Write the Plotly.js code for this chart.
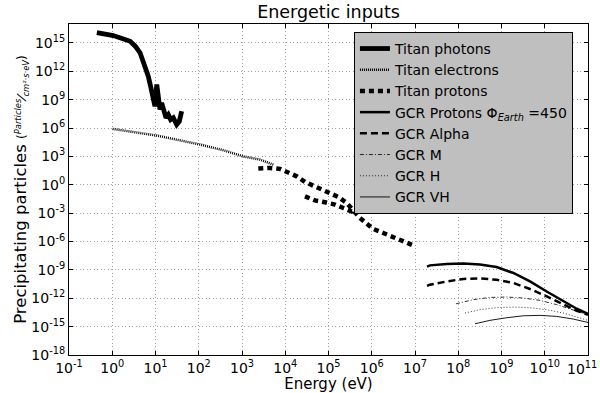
<!DOCTYPE html>
<html>
<head>
<meta charset="utf-8">
<script src="https://cdn.plot.ly/plotly-3.0.1.min.js"></script>
<style>
  html, body { margin: 0; padding: 0; background: #fff; }
  #chart { width: 600px; height: 393px; }
</style>
</head>
<body>
<div id="chart"></div>
<script>
// Values (energy in eV, flux in particles / cm2.s.eV)
const photonsE = [0.44, 1.06, 2.6, 3.4, 4.4, 5.7, 6.8, 7.7, 8.9, 9.7, 10.7, 11.6, 12.7, 13.9, 15.7, 17.5, 19.8, 22.4, 25.8, 30.9, 35.5, 40.3];
const photonsF = [1.2e16, 6e15, 1.5e15, 4.5e14, 9e13, 3.4e12, 3e11, 2.6e10, 1e9, 2e8, 4e10, 4.6e8, 9e7, 4.6e8, 5.9e7, 1.2e7, 2.6e7, 7.8e6, 1.2e7, 2.3e6, 5.1e6, 5.9e7];

const electronsE = [1.02, 2.57, 10.7, 36.8, 107, 370, 1070, 2600, 5300];
const electronsF = [8.1e5, 4.6e5, 1.6e5, 5e4, 1.8e4, 4.5e3, 1e3, 460, 135];

const protonsE = [2380, 4440, 7570, 1.18e4, 1.84e4, 2.86e4, 4.46e4, 6.97e4, 1.08e5, 1.69e5, 2.63e5, 3.74e5, 5.35e5, 7.62e5, 1.09e6, 1.85e6, 3.15e6, 5.37e6, 9.1e6];
const protonsF = [51, 60, 48, 21, 7.8, 2, 0.81, 0.36, 0.14, 0.051, 0.012, 2e-3, 3.1e-4, 7.8e-5, 2.1e-5, 7.9e-6, 3e-6, 1.3e-6, 3.9e-7];
const protonsLowE = [2.86e4, 4.88e4, 8.3e4, 1.41e5, 2.2e5, 3.44e5, 3.74e5];
const protonsLowF = [0.06, 0.022, 0.014, 7.9e-3, 3.5e-3, 1.5e-3, 2e-3];

const gcrE = [1.9e7, 2.22e7, 5.4e7, 1.31e8, 3.18e8, 7.7e8, 1.88e9, 4.56e9, 1.11e10, 2.69e10, 5.48e10, 1e11];
const gcrProtonsF = [2.2e-9, 3e-9, 4.2e-9, 4.6e-9, 3.8e-9, 2e-9, 4.7e-10, 6e-11, 5.2e-12, 4.7e-13, 7.8e-14, 2.3e-14];
const gcrAlphaF = [2e-11, 2.7e-11, 6e-11, 1.1e-10, 1.26e-10, 9.1e-11, 4.1e-11, 9.5e-12, 1.6e-12, 2.1e-13, 4.8e-14, 1.8e-14];

const gcrME = [8.9e7, 2.23e8, 5.4e8, 1.32e9, 3.19e9, 7.8e9, 1.89e10, 4.57e10, 1e11];
const gcrMF = [2.6e-13, 7.1e-13, 1.23e-12, 1.35e-12, 1.07e-12, 5.9e-13, 2.1e-13, 6.2e-14, 1.8e-14];

const gcrHE = [1.43e8, 3.18e8, 7.7e8, 1.88e9, 4.56e9, 1.11e10, 2.69e10, 5.48e10, 1e11];
const gcrHF = [2.75e-14, 6.2e-14, 1e-13, 1.17e-13, 1e-13, 6.2e-14, 2.75e-14, 1.05e-14, 4.6e-15];

const gcrVHE = [2.44e8, 5.4e8, 1.32e9, 3.19e9, 7.8e9, 1.89e10, 4.57e10, 1e11];
const gcrVHF = [2e-15, 4.6e-15, 8.7e-15, 1.4e-14, 1.55e-14, 1.2e-14, 6.3e-15, 2.75e-15];

// Tick positions and labels
const xTickVals = [1e-1, 1e0, 1e1, 1e2, 1e3, 1e4, 1e5, 1e6, 1e7, 1e8, 1e9, 1e10, 1e11];
const xTickExp = ['-1', '0', '1', '2', '3', '4', '5', '6', '7', '8', '9', '10', '11'];
const yTickVals = [1e-18, 1e-15, 1e-12, 1e-9, 1e-6, 1e-3, 1e0, 1e3, 1e6, 1e9, 1e12, 1e15];
const yTickExp = ['-18', '-15', '-12', '-9', '-6', '-3', '0', '3', '6', '9', '12', '15'];

const FONT = 'DejaVu Sans, sans-serif';
const pow10 = e => `10<sup>${e}</sup>`;

// last x label sits at the page edge, so it is drawn right-aligned as an annotation
const xTickText = xTickExp.map((e, i) => i === xTickExp.length - 1 ? '' : pow10(e));
const yTickText = yTickExp.map(pow10);

function line(name, x, y, width, dash, extra) {
    return Object.assign({
        x: x,
        y: y,
        name: name,
        type: 'scatter',
        mode: 'lines',
        line: { color: '#000', width: width, dash: dash }
    }, extra || {});
}

const traces = [
    line('Titan photons', photonsE, photonsF, 4.8, 'solid'),
    line('Titan electrons', electronsE, electronsF, 2.5, '1px,1px'),
    line('Titan protons', protonsE, protonsF, 4.5, '5px,4px', { legendgroup: 'tp' }),
    line('Titan protons', protonsLowE, protonsLowF, 4.5, '5px,4px', { legendgroup: 'tp', showlegend: false }),
    line('GCR Protons Φ<sub><i>Earth</i></sub> =450', gcrE, gcrProtonsF, 2.5, 'solid'),
    line('GCR Alpha', gcrE, gcrAlphaF, 2.5, '7px,4px'),
    line('GCR M', gcrME, gcrMF, 0.8, '4px,2px,1px,2px'),
    line('GCR H', gcrHE, gcrHF, 0.8, '1px,2px'),
    line('GCR VH', gcrVHE, gcrVHF, 0.9, 'solid')
];

const axisCommon = {
    type: 'log',
    showline: true,
    linecolor: '#000',
    linewidth: 1,
    mirror: 'ticks',
    ticks: 'inside',
    ticklen: 4,
    tickcolor: '#000',
    showgrid: true,
    gridcolor: '#8c8c8c',
    gridwidth: 0.8,
    griddash: '1px,2.5px',
    zeroline: false,
    ticklabeloverflow: 'allow',
    tickfont: { family: FONT, size: 14, color: '#000' }
};

const layout = {
    width: 600,
    height: 393,
    margin: { l: 69, r: 12, t: 24, b: 38 },
    paper_bgcolor: '#fff',
    plot_bgcolor: '#fff',
    font: { family: FONT, color: '#000' },
    title: {
        text: 'Energetic inputs',
        font: { family: FONT, size: 17.5, color: '#000' },
        x: 0.5,
        xref: 'paper',
        y: 0.97,
        yref: 'container',
        yanchor: 'middle'
    },
    xaxis: Object.assign({}, axisCommon, {
        range: [-1.0001, 11.0001],
        tickmode: 'array',
        tickvals: xTickVals,
        ticktext: xTickText,
        title: { text: 'Energy (eV)', font: { family: FONT, size: 15 }, standoff: 0 }
    }),
    yaxis: Object.assign({}, axisCommon, {
        range: [-18.0001, 17],
        tickmode: 'array',
        tickvals: yTickVals,
        ticktext: yTickText,
        title: {
            text: 'Precipitating particles <span style="font-size:12px">(<i><sup>Particles</sup>⁄<sub>cm²·s·eV</sub></i>)</span>',
            font: { family: FONT, size: 16.5 },
            standoff: 0
        }
    }),
    annotations: [{
        text: pow10(xTickExp[xTickExp.length - 1]),
        xref: 'paper',
        yref: 'paper',
        x: 1,
        y: 0,
        xanchor: 'right',
        yanchor: 'top',
        xshift: 11,
        yshift: -2,
        showarrow: false,
        font: { family: FONT, size: 14, color: '#000' }
    }],
    legend: {
        x: 0.549,
        y: 0.976,
        xanchor: 'left',
        yanchor: 'top',
        bgcolor: '#bfbfbf',
        bordercolor: '#000',
        borderwidth: 1,
        font: { family: FONT, size: 14, color: '#000' },
        tracegroupgap: 0
    },
    showlegend: true
};

Plotly.newPlot('chart', traces, layout, { displayModeBar: false, staticPlot: true });
</script>
</body>
</html>
